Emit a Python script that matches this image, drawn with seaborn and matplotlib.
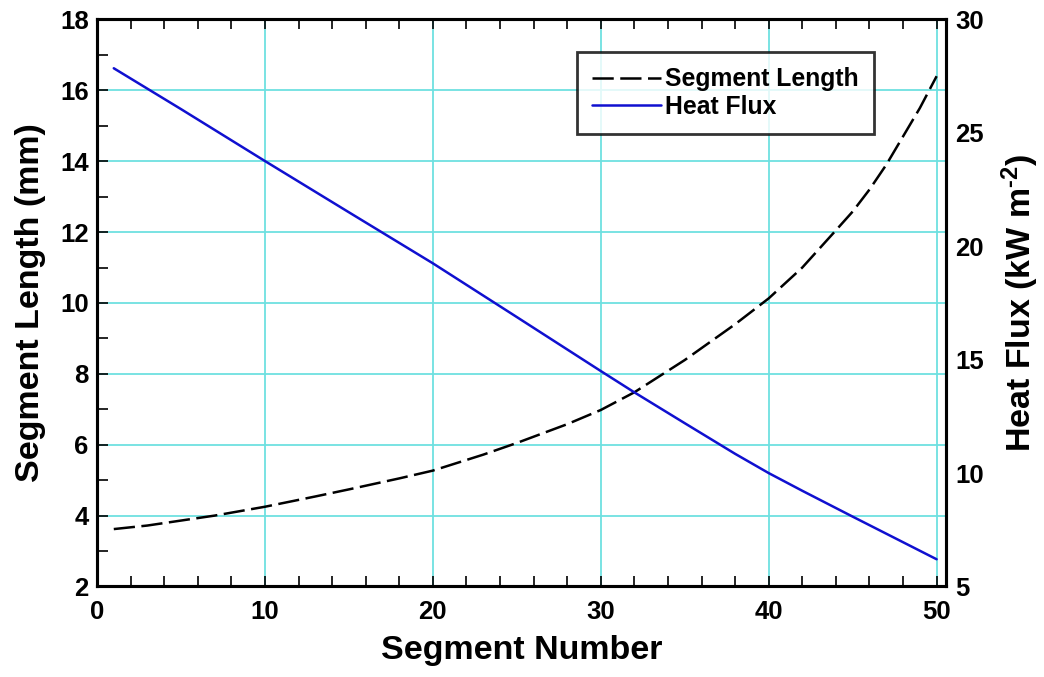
import matplotlib
matplotlib.use("Agg")
import matplotlib.pyplot as plt
from matplotlib.ticker import MultipleLocator
import seaborn as sns
import pandas as pd

# Segment length along the tube (left axis)
seg_number_len = [1, 3, 5, 7, 10, 13, 15, 18, 20, 23, 25, 28, 30, 32, 35,
                  38, 40, 42, 44, 45, 46, 47, 48, 49, 50]
segment_length_mm = [3.62, 3.72, 3.86, 4.00, 4.25, 4.54, 4.74, 5.05, 5.27,
                     5.72, 6.05, 6.58, 6.98, 7.48, 8.39, 9.40, 10.13, 11.0,
                     12.05, 12.58, 13.2, 13.9, 14.7, 15.5, 16.4]

# Heat flux per segment (right axis)
seg_number_flux = [1, 5, 10, 15, 20, 25, 30, 32, 35, 38, 40, 42, 45, 50]
heat_flux_kw = [27.85, 26.05, 23.76, 21.5, 19.25, 16.88, 14.5, 13.56, 12.2,
                10.85, 10.0, 9.22, 8.08, 6.2]

df_len = pd.DataFrame({"seg": seg_number_len, "val": segment_length_mm})
df_flux = pd.DataFrame({"seg": seg_number_flux, "val": heat_flux_kw})

sns.set_style("white")
plt.rcParams["font.family"] = ["Liberation Sans", "DejaVu Sans"]
plt.rcParams["font.weight"] = "bold"
plt.rcParams["mathtext.fontset"] = "custom"
plt.rcParams["mathtext.rm"] = "Liberation Sans:bold"
plt.rcParams["mathtext.bf"] = "Liberation Sans:bold"
plt.rcParams["mathtext.default"] = "bf"
for key in ("text.color", "axes.labelcolor", "xtick.color", "ytick.color"):
    plt.rcParams[key] = "black"

fig = plt.figure(figsize=(10.44, 6.77), dpi=100)
ax = fig.add_axes([0.0929, 0.1337, 0.8131, 0.8375])
ax2 = ax.twinx()

grid_col = "#6ee0e0"
for v in [10, 20, 30, 40, 50]:
    ax.axvline(v, color=grid_col, lw=1.3, zorder=0)
for v in [4, 6, 8, 10, 12, 14, 16]:
    ax.axhline(v, color=grid_col, lw=1.3, zorder=0)

sns.lineplot(data=df_len, x="seg", y="val", ax=ax, color="black", lw=1.8,
             label="Segment Length")
ax.lines[-1].set_dashes((8.5, 2.6))
sns.lineplot(data=df_flux, x="seg", y="val", ax=ax2, color="#1010d0", lw=1.8,
             label="Heat Flux")

ax.set_xlim(0, 50.55)
ax.set_ylim(2, 18)
ax2.set_ylim(5, 30)

ax.xaxis.set_major_locator(MultipleLocator(10))
ax.xaxis.set_minor_locator(MultipleLocator(2))
ax.yaxis.set_major_locator(MultipleLocator(2))
ax.yaxis.set_minor_locator(MultipleLocator(1))
ax2.yaxis.set_major_locator(MultipleLocator(5))

ax.tick_params(axis="x", which="both", direction="in", top=True, bottom=True,
               length=7, width=1.2, labelsize=18.5, pad=10)
ax.tick_params(axis="y", which="both", direction="in", left=True, right=False,
               length=8, width=1.2, labelsize=18.5, pad=6)
ax2.tick_params(axis="y", which="both", length=0, labelsize=18.5, pad=7)
for lab in ax.get_xticklabels() + ax.get_yticklabels() + ax2.get_yticklabels():
    lab.set_fontweight("bold")

for a in (ax, ax2):
    for sp in a.spines.values():
        sp.set_linewidth(2.2)
        sp.set_color("black")
        sp.set_visible(True)

ax.set_xlabel("Segment Number", fontsize=24.5, fontweight="bold", labelpad=8)
ax.set_ylabel("Segment Length (mm)", fontsize=24.5, fontweight="bold", labelpad=10)
ax2.set_ylabel("Heat Flux (kW m$^{\\text{-2}}$)", fontsize=24.5,
               fontweight="bold", labelpad=11)

if ax.get_legend():
    ax.get_legend().remove()
h1, l1 = ax.get_legend_handles_labels()
h2, l2 = ax2.get_legend_handles_labels()
leg = ax2.legend(h1 + h2, l1 + l2, loc="upper left",
                 bbox_to_anchor=(0.565, 0.9427), fontsize=17.8, frameon=True,
                 fancybox=False, edgecolor="black", handlelength=2.8,
                 handletextpad=0.15, borderpad=0.62, labelspacing=0.15,
                 borderaxespad=0)
leg.get_frame().set_linewidth(2.0)
for t in leg.get_texts():
    t.set_fontweight("bold")

fig.savefig("out.png", dpi=100, facecolor="white")
